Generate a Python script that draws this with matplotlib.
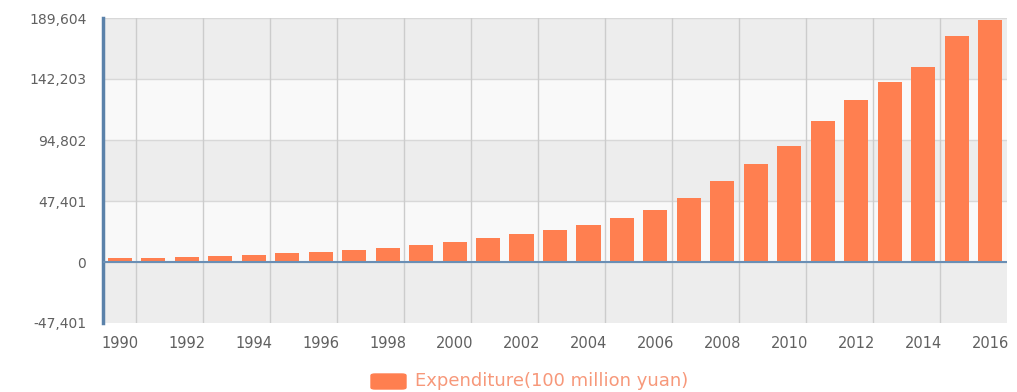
import matplotlib
matplotlib.use("Agg")
import matplotlib.pyplot as plt
from matplotlib.patches import FancyBboxPatch
import numpy as np

years = list(range(1990, 2017))
expenditure = [3083.59, 3386.62, 3742.20, 4642.30, 5792.62, 6823.72, 7937.55,
               9233.56, 10798.18, 13187.67, 15886.50, 18902.58, 22053.15,
               24649.95, 28486.89, 33930.28, 40422.73, 49781.35, 62592.66,
               76299.93, 89874.16, 109247.79, 125952.97, 140212.10, 151785.56,
               175877.77, 187755.21]
y_ticks = [-47401, 0, 47401, 94802, 142203, 189604]
series_name = "Expenditure(100 million yuan)"

plt.rcParams['font.family'] = ['DejaVu Sans']

fig = plt.figure(figsize=(10.17, 3.92), dpi=100)
W, H = 1017, 392
left, right, top, bottom = 103, 1007, 18, 323
ax = fig.add_axes([left / W, 1 - bottom / H, (right - left) / W, (bottom - top) / H])

n = len(years)
x = np.arange(n)
ax.set_xlim(-0.5, n - 0.5)
ax.set_ylim(y_ticks[0], y_ticks[-1])

# alternating horizontal bands
band_colors = ['#ededed', '#f9f9f9']
for i in range(len(y_ticks) - 1):
    c = band_colors[(len(y_ticks) - 2 - i) % 2]
    ax.axhspan(y_ticks[i], y_ticks[i + 1], color=c, zorder=0, lw=0)

for yv in y_ticks[1:]:
    ax.axhline(yv, color='#d8d8d8', lw=1, zorder=1)

# vertical split lines after every second year
for b in range(1, n, 2):
    ax.axvline(b - 0.5, color='#cccccc', lw=1, zorder=1)

ax.bar(x, expenditure, width=0.72, color='#ff7f50', zorder=3)

ax.axhline(0, color='#6a8fb5', lw=1.5, zorder=4)

for s in ['top', 'right', 'bottom']:
    ax.spines[s].set_visible(False)
ax.spines['left'].set_color('#5b82aa')
ax.spines['left'].set_linewidth(2.5)

ax.set_yticks(y_ticks)
ax.set_yticklabels([f"{v:,}" for v in y_ticks])
ax.set_xticks(x[::2])
ax.set_xticklabels([str(y) for y in years[::2]])
ax.tick_params(axis='both', length=0, colors='#606060')
ax.tick_params(axis='y', pad=12, labelsize=10)
ax.tick_params(axis='x', pad=9, labelsize=10.5)

# legend
fig.patches.append(FancyBboxPatch((371 / W, 1 - 389 / H), 35 / W, 15 / H,
                                  boxstyle="round,pad=0,rounding_size=0.004",
                                  transform=fig.transFigure, color='#ff7f50'))
fig.text(415 / W, 1 - 381 / H, series_name, color='#f7987a', fontsize=13,
         va='center', ha='left')

fig.savefig("out.png", dpi=100)
